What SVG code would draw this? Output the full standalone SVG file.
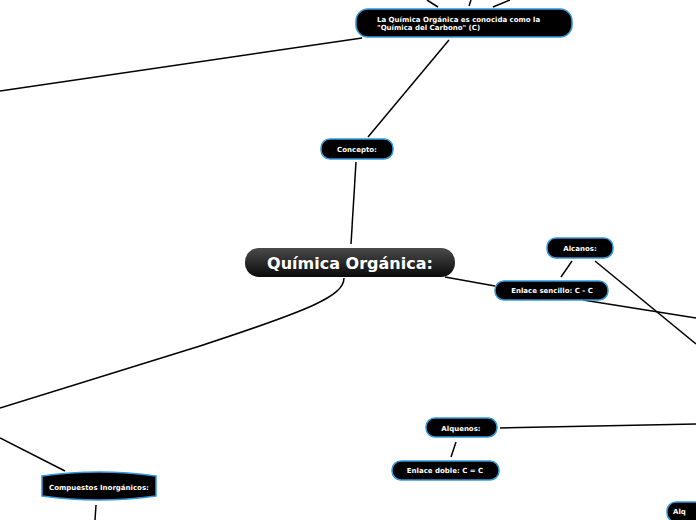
<svg xmlns="http://www.w3.org/2000/svg" width="696" height="520" viewBox="0 0 696 520">
<defs>
<linearGradient id="mainGrad" x1="0" y1="0" x2="0" y2="1">
<stop offset="0" stop-color="#4a4a4a"/>
<stop offset="1" stop-color="#0a0a0a"/>
</linearGradient>
<style>
.node{fill:#000;stroke:#3399dd;stroke-width:1.5}
.main{fill:url(#mainGrad);stroke:none}
.t{font-family:"DejaVu Sans",Verdana,sans-serif;font-weight:bold;font-size:7px;fill:#fff}
.tm{font-family:"DejaVu Sans",Verdana,sans-serif;font-weight:bold;font-size:16px;fill:#fff;text-anchor:middle}
.c{text-anchor:middle}
.edge{fill:none;stroke:#000;stroke-width:1.5}
</style>
</defs>
<rect width="696" height="520" fill="#fff"/>
<g id="connectors">
<line class="edge" x1="427" y1="0" x2="438" y2="7"/>
<line class="edge" x1="471" y1="0" x2="469" y2="6"/>
<line class="edge" x1="510" y1="0" x2="493" y2="7"/>
<line class="edge" x1="362" y1="38" x2="0" y2="91"/>
<line class="edge" x1="449" y1="40" x2="368" y2="137"/>
<line class="edge" x1="356" y1="162" x2="351" y2="244"/>
<line class="edge" x1="445" y1="277" x2="495" y2="286"/>
<path class="edge" d="M344,278 C344,296 310,310 200,346 C120,371 50,393 0,408"/>
<line class="edge" x1="0" y1="438" x2="65" y2="471"/>
<line class="edge" x1="96" y1="505" x2="95" y2="520"/>
<line class="edge" x1="572" y1="261" x2="561" y2="277"/>
<line class="edge" x1="583" y1="300" x2="696" y2="318"/>
<line class="edge" x1="595" y1="261" x2="696" y2="344"/>
<line class="edge" x1="500" y1="428" x2="696" y2="424"/>
<line class="edge" x1="456" y1="442" x2="451" y2="457"/>
</g>
<g id="node-quimica-carbono">
<rect class="node" x="356" y="9" width="216" height="28" rx="12"/>
<text class="t" x="377" y="22">La Química Orgánica es conocida como la</text>
<text class="t" x="377" y="30">"Química del Carbono" (C)</text>
</g>
<g id="node-concepto">
<rect class="node" x="321" y="139" width="72" height="20" rx="9"/>
<text class="t c" x="357" y="152">Concepto:</text>
</g>
<g id="node-main">
<rect class="main" x="245" y="248" width="210" height="29" rx="14"/>
<text class="tm" x="350" y="269">Química Orgánica:</text>
</g>
<g id="node-alcanos">
<rect class="node" x="547" y="238" width="66" height="20" rx="9"/>
<text class="t c" x="580" y="251">Alcanos:</text>
</g>
<g id="node-enlace-sencillo">
<rect class="node" x="495" y="281" width="113" height="19" rx="9"/>
<text class="t c" x="552" y="293">Enlace sencillo: C - C</text>
</g>
<g id="node-alquenos">
<rect class="node" x="426" y="418" width="71" height="19" rx="9"/>
<text class="t c" x="461" y="431">Alquenos:</text>
</g>
<g id="node-enlace-doble">
<rect class="node" x="392" y="461" width="107" height="19" rx="9"/>
<text class="t c" x="445" y="473">Enlace doble: C = C</text>
</g>
<g id="node-compuestos-inorganicos">
<path class="node" d="M42,476 Q99,468 156,476 L156,496 Q99,504 42,496 Z"/>
<text class="t c" x="99" y="490">Compuestos Inorgánicos:</text>
</g>
<g id="node-alq">
<rect class="node" x="667" y="502" width="60" height="20" rx="9"/>
<text class="t" x="673" y="514">Alq</text>
</g>
</svg>
